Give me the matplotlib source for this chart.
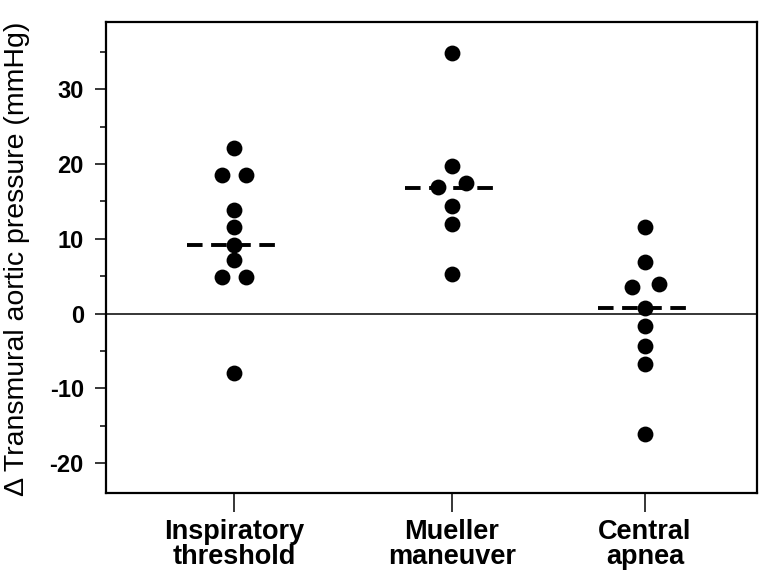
import numpy as np
import matplotlib
matplotlib.use("Agg")
import matplotlib.pyplot as plt
from matplotlib.ticker import MultipleLocator

plt.rcParams["font.family"] = ["Liberation Sans", "DejaVu Sans"]
plt.rcParams["axes.unicode_minus"] = False

categories = ["Inspiratory\nthreshold", "Mueller\nmaneuver", "Central\napnea"]
xpos = [1.0, 2.0, 2.885]

# values (mmHg)
insp_vals = [22.2, 18.6, 18.6, 13.9, 11.6, 9.2, 7.1, 4.85, 4.85, -7.9]
insp_dx = [0, -0.055, 0.055, 0, 0, 0, 0, -0.055, 0.055, 0]
muel_vals = [34.8, 19.7, 16.9, 17.4, 14.4, 12.0, 5.3]
muel_dx = [0, 0, -0.064, 0.064, 0, 0, 0]
cent_vals = [11.6, 6.85, 3.5, 3.9, 0.7, -1.6, -4.3, -6.7, -16.1]
cent_dx = [0, 0, -0.06, 0.064, 0, 0, 0, 0, 0]
group_means = [9.2, 16.8, 0.75]

fig = plt.figure(figsize=(7.6, 5.77), dpi=100)
ax = fig.add_axes([106 / 760, 84 / 577, 651 / 760, 471 / 577])

for x0, vals, dx in zip(xpos, [insp_vals, muel_vals, cent_vals],
                        [insp_dx, muel_dx, cent_dx]):
    ax.scatter(np.array(dx) + x0, vals, s=130, color="black", zorder=3,
               linewidths=0)

for x0, m in zip(xpos, group_means):
    ax.plot([x0 - 0.215, x0 + 0.215], [m, m], color="black", lw=2.8,
            dashes=(4, 2.2), zorder=2)

ax.axhline(0, color="black", lw=1.1, zorder=1)

ax.set_xlim(0.413, 3.399)
ax.set_ylim(-24, 39)
ax.yaxis.set_major_locator(MultipleLocator(10))
ax.yaxis.set_minor_locator(MultipleLocator(5))
ax.set_xticks(xpos)
ax.set_xticklabels(categories, fontsize=19.5, fontweight="bold", linespacing=0.95)
ax.tick_params(axis="y", which="major", length=8, width=1.1, labelsize=17, pad=8)
ax.tick_params(axis="y", which="minor", length=4, width=1.1)
ax.tick_params(axis="x", length=14, width=1.1, pad=5)
for lab in ax.get_yticklabels():
    lab.set_fontweight("bold")
for s in ax.spines.values():
    s.set_linewidth(1.6)

ax.set_ylabel("\u0394 Transmural aortic pressure (mmHg)", fontsize=20.5)
ax.yaxis.set_label_coords(-0.116, 0.497)

fig.savefig("out.png", dpi=100)
